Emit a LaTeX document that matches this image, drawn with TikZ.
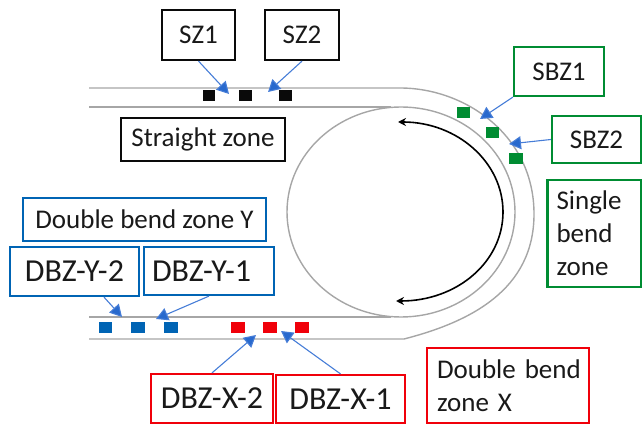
\documentclass[tikz,border=0pt]{standalone}
\usepackage{fontspec}
\setmainfont{Carlito}
\usetikzlibrary{arrows.meta}
\definecolor{szblack}{RGB}{10,10,10}
\definecolor{sbzgreen}{RGB}{0,140,50}
\definecolor{dbzyblue}{RGB}{0,100,180}
\definecolor{dbzxred}{RGB}{240,0,10}
\definecolor{leaderblue}{RGB}{70,125,215}
\definecolor{tipblue}{RGB}{40,105,205}
\tikzset{
  zonebox/.style={draw, line width=2.2pt, rectangle, inner sep=0pt, text=black!90, font=\fontsize{27}{33}\selectfont},
  szbox/.style={zonebox, draw=szblack},
  sbzbox/.style={zonebox, draw=sbzgreen},
  dbzybox/.style={zonebox, draw=dbzyblue},
  dbzxbox/.style={zonebox, draw=dbzxred},
  bigtext/.style={font=\fontsize{32}{33}\selectfont},
  leader/.style={leaderblue, line width=1.1pt, -{Triangle[length=12pt,width=13pt,fill=tipblue]}},
  track/.style={gray!70, line width=1.4pt},
}
\begin{document}
\begin{tikzpicture}[x=1pt,y=-1pt]
\useasboundingbox (0,0) rectangle (642,427);
% track
\draw[track] (89,88) -- (400,88) .. controls (465,88) and (534,135) .. (534,214)
  .. controls (534,290) and (470,322) .. (404,339) -- (89,339);
\draw[track] (89,107) -- (391,107);
\draw[track] (89,317) -- (391,317);
\draw[track] (401,212) ellipse (114 and 105);
% rotation
\coordinate (rottop) at (398,122);
\coordinate (rotbot) at (396,301);
\draw[black, line width=1.6pt, {Stealth[length=8pt,width=8pt]}-{Stealth[length=8pt,width=8pt]}] (rottop)
  .. controls (457,122) and (503,162) .. (503,212)
  .. controls (503,262) and (457,301) .. (rotbot);
% sensors
\fill[szblack] (203,90) rectangle (215,101);
\fill[szblack] (239,90) rectangle (252,101);
\fill[szblack] (279,90) rectangle (292,101);
\fill[sbzgreen] (457,107) rectangle (470,118);
\fill[sbzgreen] (486,127) rectangle (499,138);
\fill[sbzgreen] (509,153) rectangle (523,164);
\fill[dbzyblue] (99,322) rectangle (112,333);
\fill[dbzyblue] (131,322) rectangle (145,333);
\fill[dbzyblue] (164,322) rectangle (178,333);
\fill[dbzxred] (231,322) rectangle (245,333);
\fill[dbzxred] (263,322) rectangle (277,333);
\fill[dbzxred] (295,322) rectangle (309,333);
% boxes
\node[szbox, minimum width=73pt, minimum height=50pt] (sz1) at (198.5,35) {SZ1};
\node[szbox, minimum width=74pt, minimum height=50pt] (sz2) at (302,35) {SZ2};
\node[szbox, minimum width=164pt, minimum height=43pt] (szone) at (203,139.5) {Straight zone};
\node[sbzbox, minimum width=90pt, minimum height=49pt] (sbz1) at (559,71.5) {SBZ1};
\node[sbzbox, minimum width=89pt, minimum height=47pt] (sbz2) at (596.5,139.5) {SBZ2};
\node[sbzbox, text width=76pt, inner xsep=9pt, minimum height=107pt, align=left] (sbzone) at (594.5,233.5) {Single\\bend\\zone};
\node[dbzybox, minimum width=243pt, minimum height=43pt] (dyzone) at (144.5,219.5) {Double bend zone Y};
\node[dbzybox, bigtext, minimum width=129pt, minimum height=49pt] (dbzy2) at (74.5,271.5) {DBZ-Y-2};
\node[dbzybox, bigtext, text width=122pt, inner xsep=4pt, minimum height=48pt, align=left] (dbzy1) at (209,271) {\hspace{4pt}DBZ-Y-1};
\node[dbzxbox, bigtext, minimum width=122pt, minimum height=49pt] (dbzx2) at (212,398.5) {DBZ-X-2};
\node[dbzxbox, bigtext, minimum width=129pt, minimum height=48pt] (dbzx1) at (340.5,399) {DBZ-X-1};
\node[dbzxbox, text width=150pt, inner xsep=6pt, minimum height=75pt, align=left] (dxzone) at (508,385.5) {\hspace{4pt}Double bend\\\hspace{4pt}zone X};
% free ends of the leaders
\coordinate (sz1tip) at (229,94);
\coordinate (sz2tip) at (268,92);
\coordinate (sbz1tip) at (480,119);
\coordinate (sbz2tip) at (509,144);
\coordinate (dbzy2tip) at (122,317);
\coordinate (dbzy1tip) at (156,319);
\coordinate (dbzx2tip) at (256,335);
\coordinate (dbzx1tip) at (281,331);
% leaders
\draw[leader] (sz1.south) -- (sz1tip);
\draw[leader] (sz2.south) -- (sz2tip);
\draw[leader] (sbz1.south west) -- (sbz1tip);
\draw[leader] (sbz2.west) -- (sbz2tip);
\draw[leader] (dbzy2.-41) -- (dbzy2tip);
\draw[leader] (dbzy1.south) -- (dbzy1tip);
\draw[leader] (dbzx2.north) -- (dbzx2tip);
\draw[leader] (dbzx1.north) -- (dbzx1tip);
\end{tikzpicture}
\end{document}
